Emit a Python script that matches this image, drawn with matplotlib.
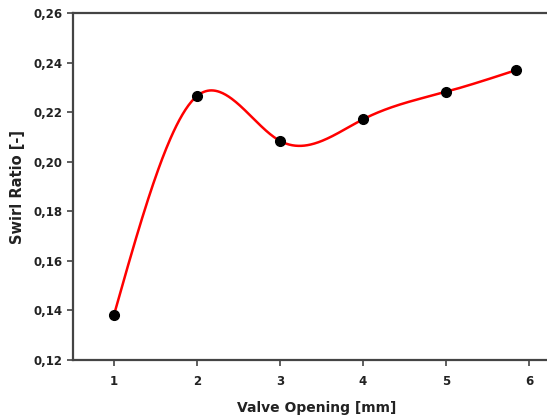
import numpy as np
import matplotlib
matplotlib.use("Agg")
import matplotlib.pyplot as plt
from matplotlib.ticker import FuncFormatter

# data
valve_opening = [1.0, 2.0, 3.0, 4.0, 5.0, 5.84]
swirl_ratio = [0.1382, 0.2265, 0.2084, 0.2171, 0.2282, 0.2369]
y_ticks = [0.12, 0.14, 0.16, 0.18, 0.20, 0.22, 0.24, 0.26]
x_ticks = [1, 2, 3, 4, 5, 6]


def natural_spline(x, y, xs):
    """natural cubic spline through (x, y), evaluated at xs"""
    x = np.asarray(x, float); y = np.asarray(y, float)
    n = len(x)
    h = np.diff(x)
    A = np.zeros((n, n)); b = np.zeros(n)
    A[0, 0] = A[-1, -1] = 1
    for i in range(1, n - 1):
        A[i, i-1] = h[i-1]
        A[i, i] = 2 * (h[i-1] + h[i])
        A[i, i+1] = h[i]
        b[i] = 3 * ((y[i+1] - y[i]) / h[i] - (y[i] - y[i-1]) / h[i-1])
    c = np.linalg.solve(A, b)
    out = np.empty_like(xs)
    for k, xv in enumerate(xs):
        i = min(np.searchsorted(x, xv, side="right") - 1, n - 2)
        i = max(i, 0)
        dx = xv - x[i]
        bi = (y[i+1] - y[i]) / h[i] - h[i] * (2 * c[i] + c[i+1]) / 3
        di = (c[i+1] - c[i]) / (3 * h[i])
        out[k] = y[i] + bi * dx + c[i] * dx**2 + di * dx**3
    return out


fig = plt.figure(figsize=(5.47, 4.18), dpi=100)
# right spine sits just outside the picture, as in the source
ax = fig.add_axes([73/547, 1 - 360/418, (560 - 73)/547, (360 - 13)/418])

xs = np.linspace(valve_opening[0], valve_opening[-1], 400)
ax.plot(xs, natural_spline(valve_opening, swirl_ratio, xs), color="#ff0000", lw=1.8, zorder=2)
ax.plot(valve_opening, swirl_ratio, "o", color="black", ms=7, zorder=3)

ax.set_xlim(1 - 41/83, 1 + (560 - 114)/83)
ax.set_ylim(0.12, 0.26)
ax.set_xticks(x_ticks)
ax.set_yticks(y_ticks)
ax.yaxis.set_major_formatter(FuncFormatter(lambda v, p: f"{v:.2f}".replace(".", ",")))

for s in ax.spines.values():
    s.set_color("#444444")
    s.set_linewidth(1.6)
ax.spines["right"].set_visible(False)
ax.tick_params(direction="out", length=4.5, width=1.2, color="#444444",
               labelsize=8.5, pad=3)
ax.tick_params(axis="x", pad=6)
for lab in ax.get_xticklabels() + ax.get_yticklabels():
    lab.set_fontweight("bold")
    lab.set_color("#222222")

ax.set_xlabel("Valve Opening [mm]", fontsize=10, fontweight="bold", color="#222222", labelpad=10)
ax.set_ylabel("Swirl Ratio [-]", fontsize=10.5, fontweight="bold", color="#222222", labelpad=6)

fig.savefig("out.png", dpi=100)
